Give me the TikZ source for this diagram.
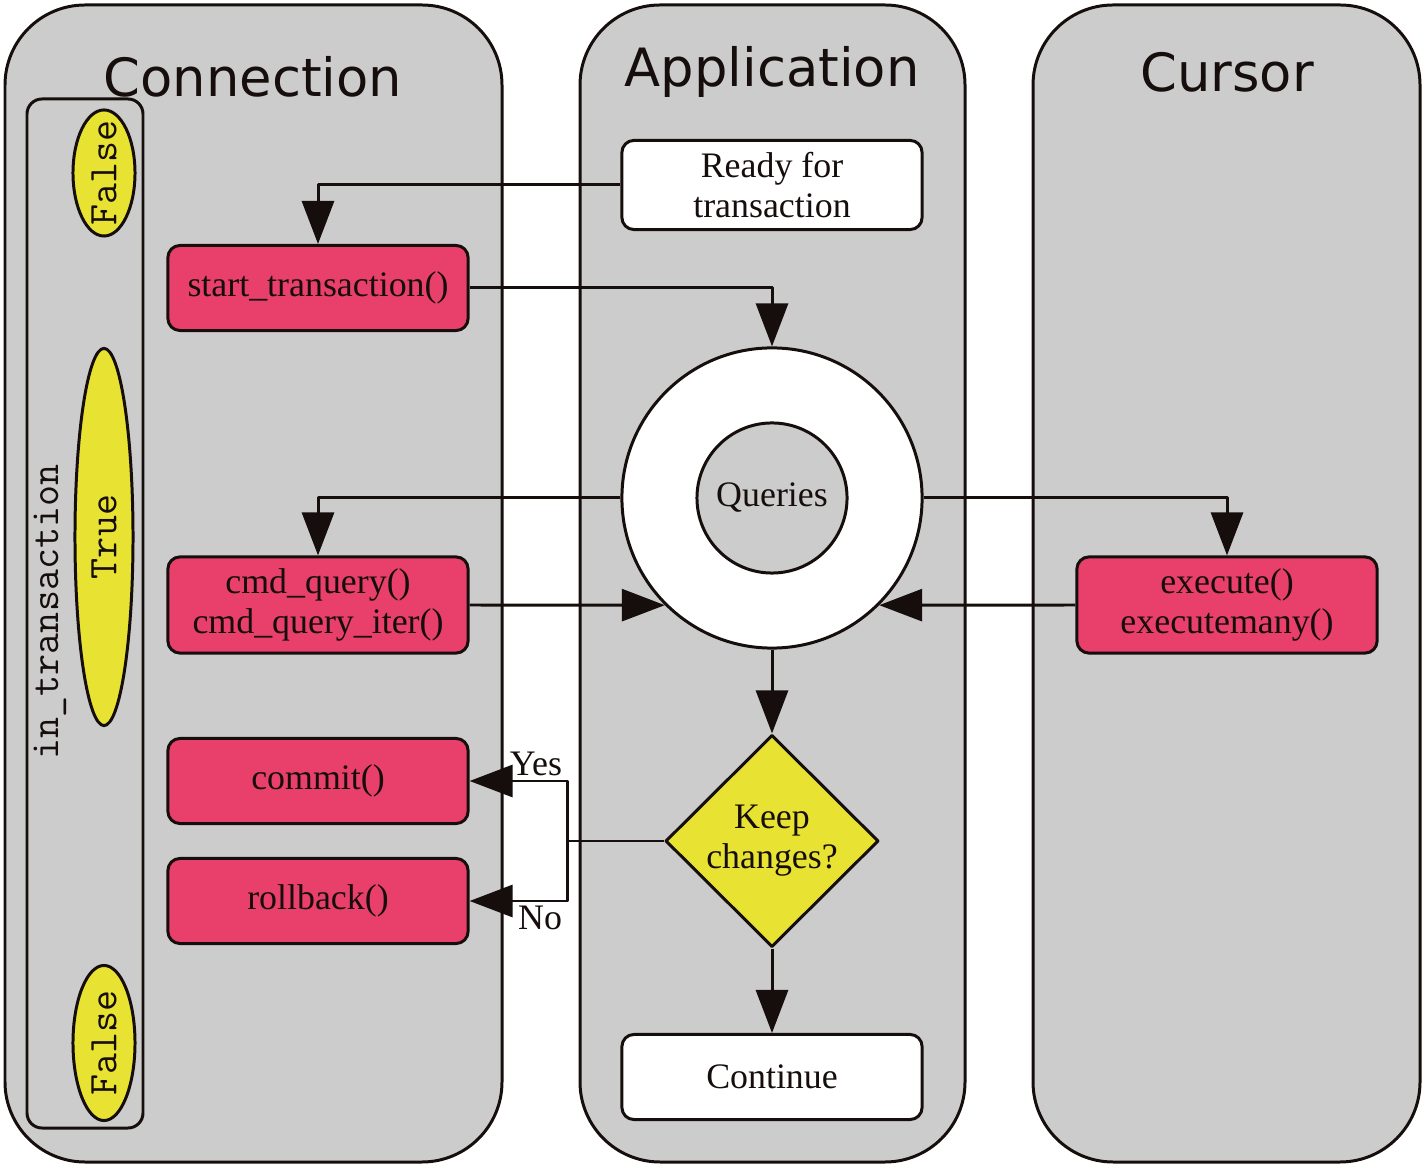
\documentclass[tikz,border=0pt]{standalone}
\usepackage{fontspec}
\setmainfont{Liberation Serif}
\newfontfamily\headfont{DejaVu Sans}
\usetikzlibrary{arrows.meta,shapes.geometric}
\definecolor{lanegray}{RGB}{204,204,204}
\definecolor{callred}{RGB}{232,64,106}
\definecolor{flagyellow}{RGB}{232,226,50}
\definecolor{edge}{RGB}{22,14,12}

\begin{document}
\begin{tikzpicture}[x=0.01cm,y=-0.01cm,line join=round,line width=0.85pt,color=edge,
    >={Triangle[length=0.43cm,width=0.32cm]},
    font=\fontsize{10.2}{11.4}\selectfont,
    lane/.style={draw,fill=lanegray,rounded corners=0.8cm},
    head/.style={font=\headfont\fontsize{15}{18}\selectfont},
    call/.style={draw,fill=callred,rounded corners=0.12cm,minimum width=3cm,minimum height=0.85cm,align=center},
    state/.style={draw,fill=white,rounded corners=0.12cm,minimum width=3cm,minimum height=0.85cm,align=center},
    flag/.style={draw,fill=flagyellow,ellipse,inner sep=0pt},
    mono/.style={font=\ttfamily\fontsize{11.6}{13}\selectfont,rotate=90,inner sep=0pt}]
    \useasboundingbox (0,0) rectangle (1425,1168);
    % swim lanes
    \draw[lane] (5,5) rectangle (502,1162);
    \draw[lane] (580,5) rectangle (965,1162);
    \draw[lane] (1033,5) rectangle (1420,1162);
    \node[head] (connhead) at (253,77) {Connection};
    \node[head] (apphead) at (772,72) {Application};
    \node[head] (curhead) at (1227,72) {Cursor};
    % in_transaction flag
    \draw[rounded corners=0.15cm] (27,99) rectangle (143,1128);
    \node[mono] (intrans) at (50,612) {in\_transaction};
    \node[flag,minimum width=0.62cm,minimum height=1.26cm] (flagA) at (104,173) {};
    \node[mono] (flagAtxt) at (flagA) {False};
    \node[flag,minimum width=0.58cm,minimum height=3.77cm] (flagB) at (104,537) {};
    \node[mono] (flagBtxt) at (flagB) {True};
    \node[flag,minimum width=0.62cm,minimum height=1.55cm] (flagC) at (104,1043) {};
    \node[mono] (flagCtxt) at (flagC) {False};
    % connection calls
    \node[call] (start) at (318,288) {start\_transaction()};
    \node[call] (cmdq) at (318,605) {cmd\_query()\\cmd\_query\_iter()};
    \node[call] (commit) at (318,781) {commit()};
    \node[call] (rollback) at (318,901) {rollback()};
    \node[call] (exec) at (1227,605) {execute()\\executemany()};
    % application
    \node[state] (ready) at (772,185) {Ready for\\transaction};
    \node[state] (cont) at (772,1077) {Continue};
    \node[draw,circle,fill=white,minimum size=3cm] (outer) at (772,498) {};
    \node[draw,circle,fill=lanegray,minimum size=1.5cm,inner sep=0pt] (inner) at (outer) {Queries};
    \node[draw,diamond,fill=flagyellow,minimum width=2.13cm,minimum height=2.12cm,inner sep=0pt,align=center] (keep) at (772,841) {Keep\\changes?};
    % connectors
    \draw[->] (ready.west) -| (start.north);
    \draw[->] (start.east) -| (outer.north);
    \draw[->] (outer.west) -| (cmdq.north);
    \draw[->] (outer.east) -| (exec.north);
    \draw[->] (cmdq.east) -- (outer.225);
    \draw[->] (exec.west) -- (outer.-45);
    \draw[->] (outer.south) -- (keep.north);
    \draw[->] (keep.south) -- (cont.north);
    \coordinate (split) at (567,841);
    \draw (keep.west) -- (split);
    \draw[->] (split) |- (commit.east) node[pos=.5,anchor=south east,inner sep=1pt]{Yes};
    \draw[->] (split) |- (rollback.east) node[pos=.5,anchor=north east,inner sep=1pt]{No};
\end{tikzpicture}
\end{document}
